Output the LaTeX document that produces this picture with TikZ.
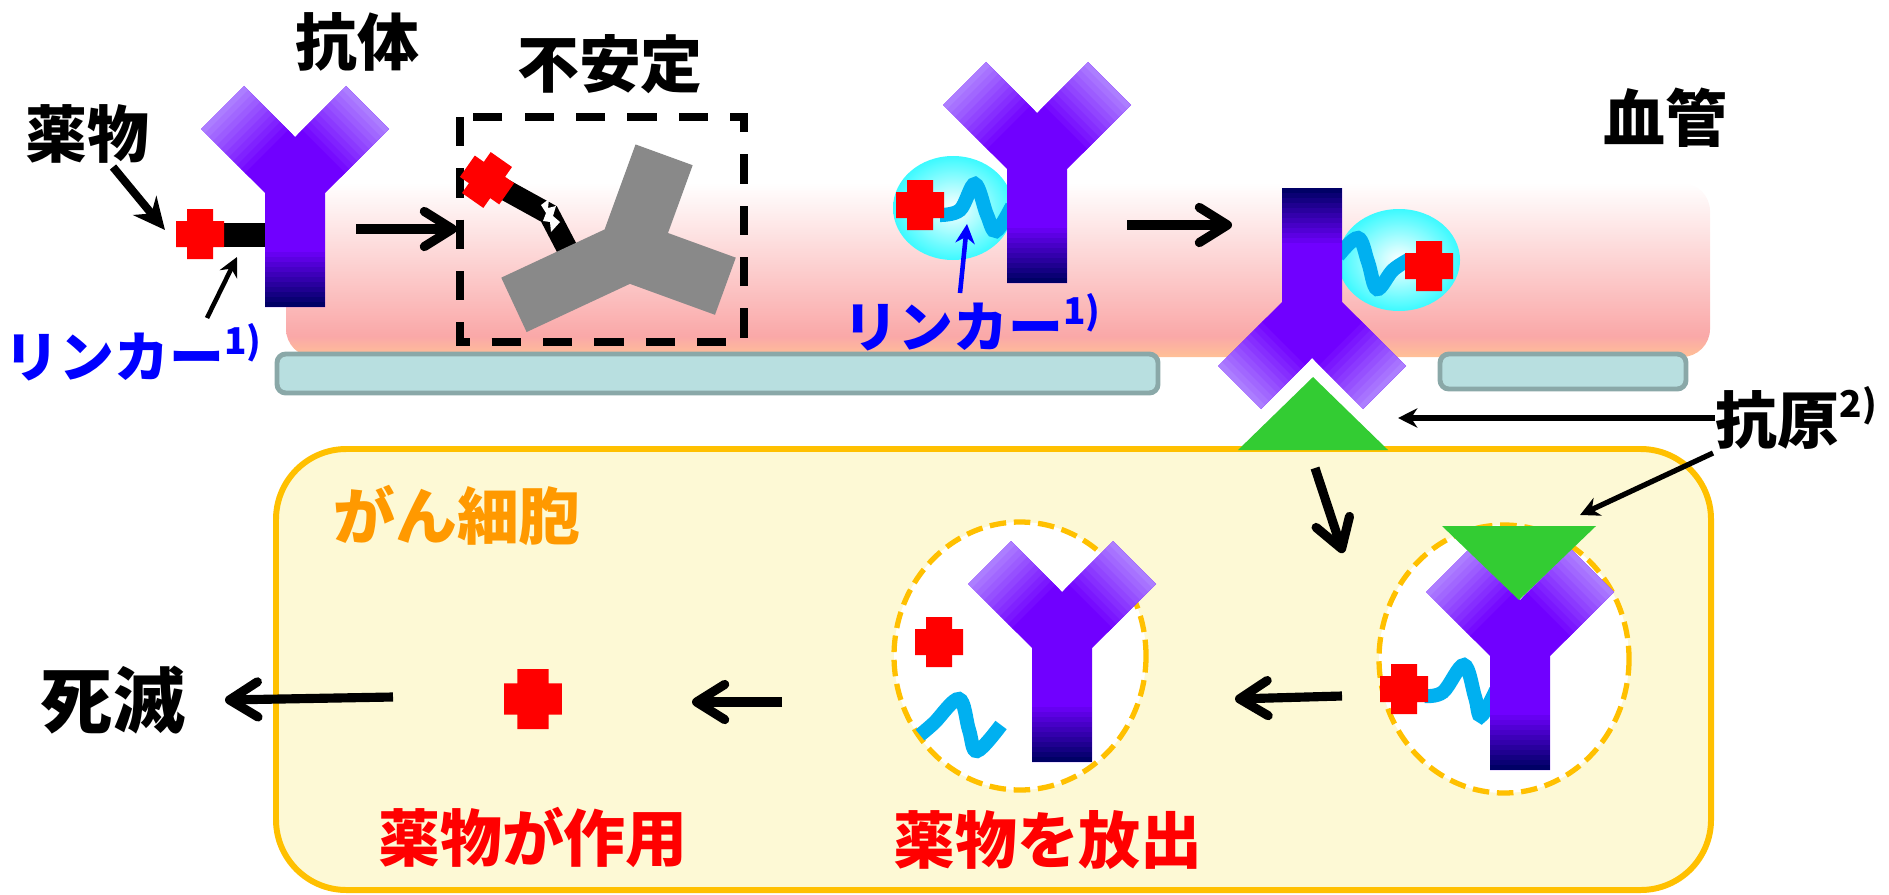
\documentclass[tikz,border=0pt]{standalone}
\usepackage{fontspec}
\setmainfont{Noto Sans CJK JP}
\newfontfamily\jp{Noto Sans CJK JP}
\usepackage{tikz}
\usetikzlibrary{arrows.meta}
\definecolor{abviolet}{RGB}{112,0,255}
\definecolor{ablilac}{RGB}{172,126,255}
\definecolor{abnavy}{RGB}{0,0,102}
\definecolor{abgray}{RGB}{137,137,137}
\definecolor{drugred}{RGB}{255,0,0}
\definecolor{linkblue}{RGB}{0,176,240}
\definecolor{bubblecyan}{RGB}{60,250,255}
\definecolor{vesselpink}{RGB}{250,168,168}
\definecolor{vesselpeach}{RGB}{255,192,150}
\definecolor{wallfill}{RGB}{184,223,224}
\definecolor{wallline}{RGB}{138,168,168}
\definecolor{cellfill}{RGB}{253,249,213}
\definecolor{cellline}{RGB}{255,192,0}
\definecolor{cancerorange}{RGB}{255,153,0}
\definecolor{antigengreen}{RGB}{51,204,51}

\pgfdeclareverticalshading{vessel}{100bp}{color(0bp)=(vesselpeach); color(25bp)=(vesselpeach);
  color(31bp)=(vesselpink); color(75bp)=(white); color(100bp)=(white)}

\newcommand\abpath{(0,0) -- (-51,-51) -- (-94,-8) -- (-30,56) -- (-30,170)
  -- (30,170) -- (30,56) -- (94,-8) -- (51,-51) -- cycle}

\newcommand\antibody[3]{%
  \begin{scope}[shift={(#1,#2)}, yscale=#3]
    \fill[abviolet] \abpath;
    \foreach \band in {0,...,11}{%
      \pgfmathsetmacro\armoff{4*\band}
      \pgfmathsetmacro\mixpct{100*\band/11}
      \pgfmathsetmacro\stemy{110+5*\band}
      \fill[abviolet!\mixpct!ablilac]
        ({-51+\armoff},{-51+\armoff}) -- ({-94+\armoff},{-8+\armoff})
        -- ({-89.5+\armoff},{-3.5+\armoff}) -- ({-46.5+\armoff},{-46.5+\armoff}) -- cycle;
      \fill[abviolet!\mixpct!ablilac]
        ({51-\armoff},{-51+\armoff}) -- ({94-\armoff},{-8+\armoff})
        -- ({89.5-\armoff},{-3.5+\armoff}) -- ({46.5-\armoff},{-46.5+\armoff}) -- cycle;
      \fill[abnavy!\mixpct!abviolet] (-30,\stemy) rectangle (30,{min(\stemy+5.5,170)});
    }
  \end{scope}}

\newcommand\drugcross[3][]{%
  \fill[drugred, shift={(#2,#3)}, #1] (-24,-13) rectangle (24,13) (-13,-25) rectangle (13,25);}

\newcommand\supnote[1]{\raisebox{0.42em}{\fontsize{10.5}{11}\selectfont #1}}

\begin{document}
\begin{tikzpicture}[x=0.01cm, y=-0.01cm,
  lbl/.style={inner sep=0pt, font=\jp\bfseries\fontsize{17.6}{20}\selectfont},
  small/.style={inner sep=0pt, font=\jp\bfseries\fontsize{15.6}{18}\selectfont},
  flow/.style={line width=2.6pt, -{Straight Barb[length=8pt, width=10pt, round]}},
  pointer/.style={line width=1.3pt, -{Stealth[length=5.5pt, width=5.5pt]}},
  wave/.style={draw=linkblue, line width=4pt},
  bubble/.style={inner color=white, outer color=bubblecyan},
  wall/.style={fill=wallfill, draw=wallline, line width=1.4pt, rounded corners=2.5pt},
  vesicle/.style={draw=cellline, fill=white, line width=1.5pt, dash pattern=on 4.7pt off 2.2pt},
  unstablebox/.style={draw=black, line width=2pt, dash pattern=on 8.3pt off 6.3pt},
  antigen/.style={fill=antigengreen}
]
\useasboundingbox (0,0) rectangle (1889,894);

\shade[shading=vessel, rounded corners=8pt] (286,183) rectangle (1710,357);
\draw[wall] (277,354) rectangle (1158,393);
\draw[wall] (1440,354) rectangle (1686,389);
\draw[cellline, fill=cellfill, line width=1.7pt, rounded corners=20pt] (276,449) rectangle (1711,890);

\fill (222,223) rectangle (266,247);
\drugcross{200}{234}
\antibody{295}{137}{1}

\draw[unstablebox] (460,117) rectangle (744,342);
\draw[line width=6pt] (500,187) -- (549,214) -- (572,258);
\fill[white] (541,205) -- (549,199) -- (548,208) -- (556,206) -- (553,216) -- (560,222)
  -- (551,232) -- (550,222) -- (543,221) -- (546,213) -- cycle;
\drugcross[rotate=-35]{487}{180}
\fill[abgray, shift={(668,233)}, rotate=-65] \abpath;

\shade[bubble] (953,208) ellipse [x radius=60, y radius=52];
\draw[wave] plot[smooth, tension=0.6] coordinates {(940,215) (960,210) (975,184) (987,215) (996,231) (1012,206)};
\drugcross{920}{205}
\antibody{1037}{113}{1}

\shade[bubble] (1399,260) ellipse [x radius=61, y radius=51];
\draw[wave] plot[smooth, tension=0.6] coordinates {(1338,256) (1358,238) (1368,262) (1377,289) (1393,270) (1410,259)};
\drugcross{1429}{266}
\antibody{1312}{358}{-1}
\fill[antigen] (1238,450) -- (1313,377) -- (1388,450) -- cycle;

\draw[vesicle] (1504,659) ellipse [x radius=125, y radius=134];
\draw[wave] plot[smooth, tension=0.6] coordinates {(1425,696) (1443,692) (1464,665) (1475,697) (1481,716) (1496,690)};
\drugcross{1404}{689}
\antibody{1520}{600}{1}
\fill[antigen] (1442,526) -- (1596,526) -- (1519,600) -- cycle;

\draw[vesicle] (1020,656) ellipse [x radius=126, y radius=134];
\drugcross{939}{642}
\draw[wave] plot[smooth, tension=0.6] coordinates {(920,735) (934,723) (959,699) (969,730) (977,751) (1001,725)};
\antibody{1062}{592}{1}

\drugcross[scale=1.2]{533}{699}

\node[lbl] (antibody) at (357,42) {抗体};
\node[lbl] (unstable) at (610,64) {不安定};
\node[lbl] (drug) at (87,134) {薬物};
\node[lbl] (bloodvessel) at (1665,118) {血管};
\node[lbl, anchor=west] (antigenlbl) at (1715,418) {抗原\supnote{2)}};
\node[small, blue, anchor=west] (linkerA) at (4,352) {リンカー\supnote{1)}};
\node[small, blue, anchor=west] (linkerB) at (843,322) {リンカー\supnote{1)}};
\node[lbl, cancerorange] (cancer) at (457,515) {がん細胞};
\node[lbl, drugred] (acts) at (533,837) {薬物が作用};
\node[lbl, drugred] (release) at (1048,840) {薬物を放出};
\node[lbl, font=\jp\bfseries\fontsize{20.5}{22}\selectfont] (death) at (113,700) {死滅};

\coordinate (drugtail) at (113,167);
\coordinate (drughead) at (165,230);
\coordinate (linkAtail) at (207,318);
\coordinate (linkAhead) at (237,257);
\coordinate (linkBtail) at (960,293);
\coordinate (linkBhead) at (967,224);
\coordinate (agheadA) at (1398,418);
\coordinate (agtailB) at (1713,453);
\coordinate (agheadB) at (1580,515);

\draw[pointer, line width=2.3pt, -{Stealth[length=9pt, width=8.5pt]}] (drugtail) -- (drughead);
\draw[pointer] (linkAtail) -- (linkAhead);
\draw[pointer, blue] (linkBtail) -- (linkBhead);
\draw[pointer, line width=1.5pt] (antigenlbl.west) -- (agheadA);
\draw[pointer, line width=1.5pt] (agtailB) -- (agheadB);

\coordinate (s1) at (356,229);   \coordinate (t1) at (457,229);
\coordinate (s2) at (1127,225);  \coordinate (t2) at (1232,225);
\coordinate (s3) at (1315,468);  \coordinate (t3) at (1343,553);
\coordinate (s4) at (1342,696);  \coordinate (t4) at (1235,699);
\coordinate (s5) at (782,702);   \coordinate (t5) at (692,702);
\coordinate (s6) at (393,697);   \coordinate (t6) at (225,700);
\foreach \i in {1,...,6}
  \draw[flow] (s\i) -- (t\i);
\end{tikzpicture}
\end{document}
